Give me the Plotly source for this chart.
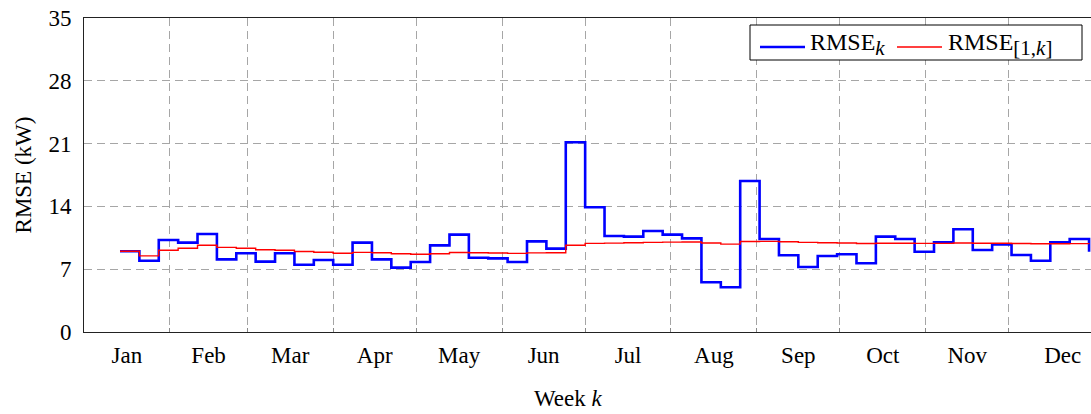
import plotly.graph_objects as go

# Weekly RMSE values (kW) and the running RMSE over weeks 1..k
weeks = list(range(1, 52))
rmse_week = [
    9.00, 7.95, 10.25, 9.96, 10.92, 8.10, 8.77, 7.84, 8.77, 7.50,
    8.03, 7.50, 9.96, 8.10, 7.17, 7.80, 9.66, 10.85, 8.28, 8.21,
    7.80, 10.10, 9.29, 21.15, 13.90, 10.70, 10.63, 11.26, 10.85, 10.44,
    5.54, 4.98, 16.83, 10.37, 8.55, 7.25, 8.47, 8.66, 7.66, 10.63,
    10.37, 8.95, 10.00, 11.45, 9.14, 9.77, 8.58, 7.95, 10.00, 10.37,
    8.95,
]
rmse_cum = [
    9.00, 8.49, 9.12, 9.33, 9.67, 9.43, 9.34, 9.16, 9.12, 8.97,
    8.89, 8.78, 8.88, 8.83, 8.72, 8.67, 8.73, 8.86, 8.83, 8.80,
    8.76, 8.82, 8.84, 9.67, 9.88, 9.91, 9.94, 9.99, 10.02, 10.03,
    9.92, 9.80, 10.09, 10.10, 10.06, 9.99, 9.95, 9.92, 9.87, 9.89,
    9.90, 9.88, 9.88, 9.92, 9.90, 9.90, 9.87, 9.84, 9.84, 9.85,
    9.83,
]
months = ["Jan", "Feb", "Mar", "Apr", "May", "Jun",
          "Jul", "Aug", "Sep", "Oct", "Nov", "Dec"]
month_start_doy = [1, 32, 60, 91, 121, 152, 182, 213, 244, 274, 305, 335, 366]
y_ticks = [0, 7, 14, 21, 28, 35]
series_names = ["RMSE<sub><span style='font-size:21px'><i>k</i></span></sub>",
                "RMSE<sub><span style='font-size:21px'>[1,<i>k</i>]</span></sub>"]
series_colors = ["#0000ff", "#ff0000"]
series_widths = [2.6, 1.4]

# each week's value is placed at the day of year closing the following week
x_doy = [7 * (k + 1) for k in weeks]
# month names sit in the middle of their month; December is nudged right
month_mid = [(a + b) / 2 for a, b in zip(month_start_doy[:-1], month_start_doy[1:])]
month_mid[-1] = 354.5

FONT = "Liberation Serif"
FS = 23
W, H = 1091, 414
L, R, T, B = 84, 0, 18, 82
PW, PH = W - L - R, H - T - B


def px(x):
    return (x - L) / PW


def py(y):
    return (H - B - y) / PH


fig = go.Figure()
for vals, name, col, lw in zip([rmse_week, rmse_cum], series_names,
                               series_colors, series_widths):
    fig.add_trace(go.Scatter(
        x=x_doy, y=vals, mode="lines", line_shape="hv",
        line=dict(color=col, width=lw), name=name, showlegend=False,
    ))

grid = dict(gridcolor="#a6a6a6", gridwidth=1, griddash="8px,5px")

# legend box drawn in paper coordinates (top-right corner of the axes)
shapes = [dict(type="rect", xref="paper", yref="paper",
               x0=px(750), x1=px(1082), y0=py(60), y1=py(25),
               line=dict(color="black", width=1), fillcolor="white",
               layer="above")]
annotations = []
for (lx0, lx1, tx), name, col, lw in zip([(760, 805, 808), (897, 942, 946)],
                                         series_names, series_colors, series_widths):
    shapes.append(dict(type="line", xref="paper", yref="paper",
                       x0=px(lx0), x1=px(lx1), y0=py(47), y1=py(47),
                       line=dict(color=col, width=lw), layer="above"))
    annotations.append(dict(text=name, xref="paper", yref="paper",
                            x=px(tx), y=py(45), xanchor="left", yanchor="middle",
                            showarrow=False, font=dict(family=FONT, size=24)))

annotations.append(dict(
    text="Week <i>k</i>", xref="paper", yref="paper",
    x=px(568), y=-0.165, xanchor="center", yanchor="top",
    showarrow=False, font=dict(family=FONT, size=FS),
))

fig.update_layout(
    width=W, height=H,
    margin=dict(l=L, r=R, t=T, b=B, pad=0),
    paper_bgcolor="white", plot_bgcolor="white",
    font=dict(family=FONT, size=FS, color="black"),
    showlegend=False,
    xaxis=dict(
        range=[1, 364.7], showline=True, linecolor="#222", linewidth=1,
        mirror=True, zeroline=False,
        tickmode="array", tickvals=month_mid, ticktext=months,
        showgrid=False, ticks="outside", ticklen=2, tickcolor="rgba(0,0,0,0)",
        minor=dict(tickmode="array", tickvals=month_start_doy[1:-1],
                   showgrid=True, ticks="inside", ticklen=4,
                   tickcolor="#888", **grid),
    ),
    yaxis=dict(
        range=[0, 35], showline=True, linecolor="#222", linewidth=1,
        zeroline=False, tickmode="array", tickvals=y_ticks,
        showgrid=True, **grid,
        ticks="outside", ticklen=7, tickcolor="rgba(0,0,0,0)",
        title=dict(text="RMSE (kW)", standoff=10,
                   font=dict(family=FONT, size=FS)),
    ),
    shapes=shapes,
    annotations=annotations,
)

fig.write_html("out.html")
